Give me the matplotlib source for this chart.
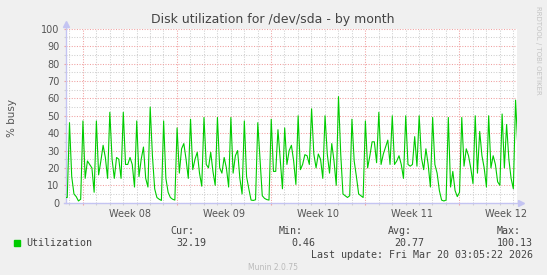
import numpy as np
import matplotlib
matplotlib.use("Agg")
import matplotlib.pyplot as plt
import matplotlib.transforms as mtransforms
from matplotlib.patches import Rectangle

# ---- data (4-hour samples) ----
util = [3, 3, 46, 15, 5, 3.5, 1, 2, 47, 14, 24, 22, 20, 6, 47, 16, 24, 33, 26, 14,
        52, 25, 14, 26, 25, 14, 52, 22, 22, 26, 22, 9, 47, 15, 25, 32, 14, 9, 55, 27,
        8, 3, 2, 1.3, 47, 14, 6, 3, 2, 1.5, 43, 17, 31, 34, 25, 14, 48, 19, 25, 29,
        17, 9.5, 49, 22, 20, 29, 18, 10, 49, 20, 17, 26, 20, 9, 49, 17, 27, 30, 14, 5,
        47, 15, 8, 1.5, 1.3, 1.7, 46, 25, 4, 2.5, 1.8, 1.5, 48, 18, 18, 42, 25, 8, 43, 22,
        30, 33, 24, 10.5, 50, 19, 22, 27.6, 27, 22, 54, 28, 20, 28, 25, 14, 50, 28, 17, 34,
        24, 10, 61, 28, 5, 4, 3, 4, 48, 24, 15, 5, 4, 3, 47, 20, 27, 35, 35, 23,
        52, 22, 28, 32, 36, 22, 50, 22, 24, 27, 22, 14, 50, 22, 21, 22, 38, 21, 50, 26,
        19, 31, 22, 9, 49, 22, 17, 7, 1.5, 1, 1.5, 49, 9, 18, 7, 3.5, 6, 49, 21, 31,
        27, 20, 11, 50, 17, 41, 27, 20, 9, 50, 20, 27, 22, 12, 10, 51, 20, 45, 25, 14,
        8, 59, 32]
samples_per_day = 6
first_week_start = 1.316          # days from start of data
week_labels = ["Week 08", "Week 09", "Week 10", "Week 11", "Week 12"]
title = "Disk utilization for /dev/sda - by month"
ylabel = "% busy"
series_name = "Utilization"
stat_names = ["Cur:", "Min:", "Avg:", "Max:"]
stat_values = ["32.19", "0.46", "20.77", "100.13"]
last_update = "Last update: Fri Mar 20 03:05:22 2026"
footer = "Munin 2.0.75"
side_text = "RRDTOOL / TOBI OETIKER"

# ---- figure ----
W, H = 547, 275
fig = plt.figure(figsize=(W / 100, H / 100), dpi=100, facecolor="#F0F0F0")

def fx(px):
    return px / W

def fy(py):
    return 1 - py / H

ax_left, ax_right, ax_top, ax_bottom = 66, 516.7, 28.8, 202.7
ax = fig.add_axes([fx(ax_left), fy(ax_bottom), fx(ax_right - ax_left), (ax_bottom - ax_top) / H])
ax.set_facecolor("white")

t = np.arange(len(util)) / samples_per_day
day_px = 13.45
x0 = (ax_left - 65) / day_px
x1 = x0 + (ax_right - ax_left) / day_px
ax.set_xlim(x0, x1)
ax.set_ylim(0, 100)

week_starts = [first_week_start + 7 * k for k in range(len(week_labels))]
days = np.arange(first_week_start - 1, x1, 1.0)
ax.set_xticks(week_starts)
ax.set_xticks(days, minor=True)
ax.set_xticklabels([])
ax.set_yticks(np.arange(0, 101, 10))
ax.set_yticks(np.arange(0, 101, 5), minor=True)
ax.set_yticklabels([str(v) for v in range(0, 101, 10)], fontsize=7, color="#555555")

red = "#F0A0A0"
gray = "#CFCFCF"
ax.grid(which="major", color=red, linestyle=(0, (1, 1.5)), linewidth=0.75)
ax.grid(which="minor", color=gray, linestyle=(0, (1, 1.5)), linewidth=0.75)
ax.set_axisbelow(True)
ax.tick_params(axis="both", which="major", direction="out", length=1.6, width=0.8, color=red, pad=3)
ax.tick_params(axis="both", which="minor", direction="out", length=1.6, width=0.8, color=gray)

for s in ax.spines.values():
    s.set_visible(False)

axis_col = "#C4C4F2"
ax.plot([0, 0], [0, 1.02], transform=ax.transAxes, color=axis_col, lw=1.0, clip_on=False, zorder=3)
ax.plot([-0.004, 1.006], [0, 0], transform=ax.transAxes, color=axis_col, lw=1.0, clip_on=False, zorder=3)
ax.plot([0], [1.028], transform=ax.transAxes, marker="^", ms=4.5, color=axis_col, clip_on=False, zorder=3)
ax.plot([1.0095], [0], transform=ax.transAxes, marker=">", ms=4.5, color=axis_col, clip_on=False, zorder=3)

ax.plot(t, util, color="#00CC00", lw=0.8, zorder=4)

blend = mtransforms.blended_transform_factory(ax.transData, fig.transFigure)
for ws, lab in zip(week_starts, week_labels):
    ax.text(ws + 3.5, fy(214), lab, transform=blend,
            ha="center", va="center", fontsize=7, color="#555555")

# title & labels
fig.text(fx(273), fy(22.5), title, ha="center", va="baseline", fontsize=9, color="#444444")
fig.text(fx(12), fy(118), ylabel, rotation=90, ha="center", va="center", fontsize=7.5, color="#555555")
fig.text(fx(538), fy(50), side_text, rotation=270, ha="center", va="center", fontsize=5, color="#C4C4C4")

# legend
mono = "DejaVu Sans Mono"
fig.patches.append(Rectangle((fx(14), fy(245.5)), fx(5.5), 5.5 / H, color="#00CC00", transform=fig.transFigure))
fig.text(fx(26), fy(242.5), series_name, ha="left", va="center", family=mono, fontsize=7.2, color="#444444")
name_x = [194, 303, 412, 520.6]
val_x = [206.5, 315, 424, 533]
for nm, vl, nx, vx in zip(stat_names, stat_values, name_x, val_x):
    fig.text(fx(nx), fy(230.5), nm, ha="right", va="center", family=mono, fontsize=7.2, color="#444444")
    fig.text(fx(vx), fy(242.5), vl, ha="right", va="center", family=mono, fontsize=7.2, color="#444444")
fig.text(fx(533), fy(254.5), last_update, ha="right", va="center", family=mono, fontsize=7.2, color="#444444")
fig.text(fx(272.5), fy(267.5), footer, ha="center", va="center", fontsize=5.5, color="#BBBBBB")

fig.savefig("out.png", dpi=100, facecolor=fig.get_facecolor())
